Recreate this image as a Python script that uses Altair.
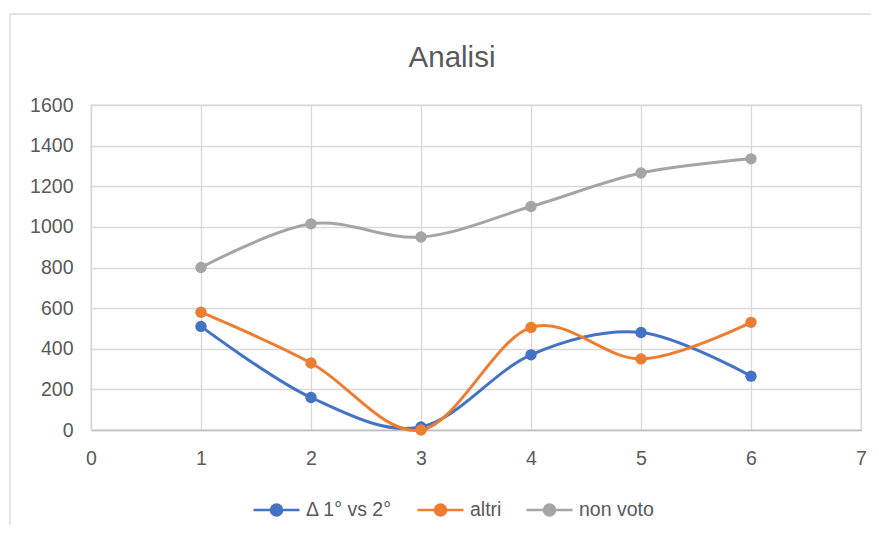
import altair as alt
import pandas as pd

x_values = [1, 2, 3, 4, 5, 6]
delta_1_vs_2 = [510, 160, 15, 370, 480, 265]
altri = [580, 330, 0, 505, 350, 530]
non_voto = [800, 1015, 950, 1100, 1265, 1335]
series_names = ["Δ 1° vs 2°", "altri", "non voto"]
series_colors = ["#4472C4", "#ED7D31", "#A5A5A5"]

rows = []
for name, vals in zip(series_names, [delta_1_vs_2, altri, non_voto]):
    for xv, yv in zip(x_values, vals):
        rows.append({"x": xv, "y": yv, "serie": name})
df = pd.DataFrame(rows)

FONT = "Liberation Sans"
TXT = "#595959"
LBL = 19.5

color = alt.Color(
    "serie:N",
    scale=alt.Scale(domain=series_names, range=series_colors),
    sort=series_names,
    legend=alt.Legend(
        title=None,
        orient="none",
        direction="horizontal",
        legendX=161,
        legendY=380,
        symbolType="M-1,0L1,0M0.24,0A0.24,0.24,0,1,1,-0.24,0A0.24,0.24,0,1,1,0.24,0",
        symbolSize=2116,
        symbolStrokeWidth=2.5,
        labelOffset=5,
        columnPadding=19,
        labelFontSize=LBL,
        labelColor=TXT,
        labelFont=FONT,
        padding=0,
    ),
)

xenc = alt.X(
    "x:Q",
    scale=alt.Scale(domain=[0, 7], nice=False),
    axis=alt.Axis(
        values=[0, 1, 2, 3, 4, 5, 6, 7], title=None, ticks=False, labelPadding=19,
        labelFlush=False,
        domainColor="#bfbfbf", domainWidth=1.5, gridColor="#d9d9d9", gridWidth=1.3,
        labelFontSize=LBL, labelColor=TXT, labelFont=FONT, format="d",
    ),
)
yenc = alt.Y(
    "y:Q",
    scale=alt.Scale(domain=[0, 1600], nice=False),
    axis=alt.Axis(
        values=list(range(0, 1601, 200)), title=None, ticks=False, labelPadding=18,
        labelFlush=False,
        domainColor="#d9d9d9", domainWidth=1.3, gridColor="#d9d9d9", gridWidth=1.3,
        labelFontSize=LBL, labelColor=TXT, labelFont=FONT, format="d",
    ),
)

border = alt.Chart(pd.DataFrame({"a": [0]})).mark_rect(
    fill=None, stroke="#d9d9d9", strokeWidth=1.3, clip=False
).encode(
    x=alt.value(-81), x2=alt.value(800), y=alt.value(-91), y2=alt.value(440)
)

lines = alt.Chart(df).mark_line(
    interpolate="cardinal", strokeWidth=3,
    point=alt.OverlayMarkDef(filled=True, size=130, opacity=1),
).encode(x=xenc, y=yenc, color=color, order="x:Q")

chart = alt.layer(border, lines).properties(
    width=770,
    height=325,
    autosize=alt.AutoSizeParams(type="none"),
    padding={"left": 83, "top": 97, "right": 10, "bottom": 95},
    title=alt.Title(
        "Analisi", fontSize=29.5, font=FONT, color=TXT, fontWeight="normal",
        anchor="middle", dx=-24, offset=-60,
    ),
).configure_view(stroke="#d9d9d9", strokeWidth=1.3)

chart.save("out.html", embed_options={"renderer": "svg", "actions": False})
